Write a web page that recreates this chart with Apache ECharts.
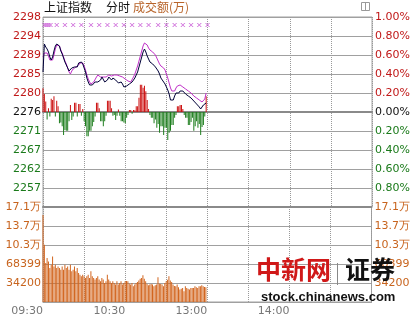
<!DOCTYPE html>
<html><head><meta charset="utf-8">
<script src="https://cdn.jsdelivr.net/npm/echarts@6/dist/echarts.min.js"></script>
<style>html,body{margin:0;padding:0;background:#fff}#c{width:413px;height:318px}</style>
</head><body><div id="c"></div>
<script>
// ---- data ----
const PRE_CLOSE = 2275.65;
const priceLabels = ['2298','2294','2289','2285','2280','2276','2271','2267','2262','2257',''];
const pctLabels = ['1.00%','0.80%','0.60%','0.40%','0.20%','0.00%','0.20%','0.40%','0.60%','0.80%',''];
const volLabels = ['','34200','68399','10.3万','13.7万','17.1万'];
const timeLabels = ['09:30','','10:30','','13:00','','14:00','',''];
// index price per minute (from 09:30)
const indexPrice = [2285.23,2291.94,2291.22,2290.74,2290.02,2288.82,2288.10,2288.82,2290.26,2291.46,
2291.94,2292.18,2291.46,2290.26,2289.54,2288.58,2287.63,2286.91,2286.19,2285.47,
2285.23,2286.19,2286.43,2286.43,2286.19,2286.43,2287.39,2287.63,2287.63,2287.15,
2286.19,2285.23,2283.79,2282.84,2282.12,2281.88,2282.12,2282.36,2282.84,2283.31,
2282.84,2282.60,2283.31,2284.03,2283.79,2282.84,2282.60,2283.31,2284.03,2283.79,
2283.31,2283.79,2283.79,2283.31,2282.84,2282.60,2282.60,2282.84,2282.36,2281.64,
2281.40,2281.88,2282.12,2282.36,2282.12,2282.84,2283.31,2283.79,2284.51,2285.23,
2286.43,2287.63,2288.82,2290.02,2290.74,2290.02,2289.06,2288.34,2287.63,2287.39,
2287.15,2286.91,2286.43,2285.95,2285.47,2284.75,2283.79,2283.31,2282.84,2282.36,
2281.64,2280.92,2279.96,2278.52,2278.28,2278.52,2279.48,2280.20,2280.44,2280.20,
2280.68,2280.92,2280.68,2280.44,2279.96,2279.72,2279.48,2279.24,2279.00,2278.76,
2278.28,2278.05,2277.57,2277.33,2276.85,2276.37,2276.61,2277.33,2277.57,2277.81];
// second (unweighted) index line
const avgPrice = [2288.82,2289.78,2290.02,2289.78,2289.06,2288.10,2287.63,2288.10,2289.30,2290.74,
2291.70,2291.94,2291.46,2290.50,2289.78,2288.82,2287.86,2287.15,2286.19,2285.23,
2284.75,2285.47,2285.95,2286.19,2286.43,2286.67,2286.91,2287.39,2287.63,2287.39,
2286.67,2285.71,2284.51,2283.55,2282.84,2282.36,2282.36,2282.84,2283.31,2284.03,
2284.51,2284.27,2284.03,2284.03,2284.03,2284.03,2284.03,2284.27,2284.51,2284.51,
2284.27,2284.51,2284.51,2284.51,2284.51,2284.51,2284.27,2284.03,2284.03,2283.79,
2283.55,2283.31,2283.07,2282.84,2282.84,2283.31,2284.03,2284.75,2285.71,2286.67,
2287.86,2289.06,2290.26,2291.46,2292.18,2292.42,2291.70,2290.98,2290.50,2290.26,
2290.02,2289.78,2289.30,2288.58,2287.86,2287.15,2286.67,2286.43,2286.19,2285.71,
2284.75,2283.79,2282.60,2281.40,2280.68,2280.44,2280.68,2281.40,2281.88,2282.12,
2282.12,2281.88,2281.64,2281.40,2281.16,2280.92,2280.68,2280.44,2280.20,2279.96,
2279.48,2279.24,2279.00,2278.76,2278.52,2278.28,2278.05,2277.81,2278.76,2280.20];
// buy/sell strength (index points, + red / - green)
const strength = [5.7,4.3,2.5,-1.8,0.9,-1.1,3.2,2.9,3.8,-1.1,
2.7,1.4,-2.7,-2.5,-3.4,-5.5,-4.3,-4.5,-4.5,-2.2,
1.7,-1.9,-1.1,2.2,2.2,-1.1,1.9,1.9,-0.9,0.7,
-2.2,-3.4,-5.8,-5.8,-4.5,-4.5,-3.4,-2.4,-1.1,2.2,
2.2,0.9,-2.2,-2.2,-3.4,-2.2,-0.9,2.7,2.7,2.7,
0.9,-0.9,-0.7,-1.9,-0.9,0.6,-0.9,-2.2,-2.2,-2.5,
-2.7,-1.4,-0.7,0.5,0.5,-0.4,0.5,0.4,1.4,1.4,
3.4,6.5,6.5,5.8,6.3,5.0,2.9,0.7,-0.7,-1.4,
-1.4,-2.7,-1.8,-3.8,-2.9,-5.0,-3.4,-3.4,-5.5,-3.8,
-3.8,-6.7,-5.0,-4.5,-3.1,-3.1,-1.4,-0.7,1.4,1.4,
1.7,1.7,0.7,-0.7,-1.4,-1.4,-3.1,-3.1,-2.4,-1.4,
-4.5,-3.4,-2.2,-3.8,-2.9,-5.5,-3.6,-3.1,-1.1,3.8];
// turnover per minute
const volume = [156600,102900,70100,79100,73100,61200,67100,82000,64100,67100,
61200,64100,61200,58200,64100,58200,67100,61200,64100,58200,
67100,55200,58200,64100,55200,61200,52200,49200,46200,49200,
46200,43300,46200,49200,43300,55200,46200,43300,40300,43300,
46200,40300,37300,43300,40300,34300,37300,49200,40300,37300,
34300,37300,34300,31300,37300,31300,34300,37300,31300,34300,
37300,38000,37300,33000,31300,34300,28300,31300,34300,36000,
38500,42000,43300,48000,42000,37300,32500,30000,31300,32500,
31300,28300,30000,31300,44500,33000,32500,31300,28300,34300,
37300,40000,46200,38500,36000,31300,29000,28300,31300,26500,
22400,24000,25400,19500,28300,25400,24000,22400,25400,25400,
25400,28300,26500,25400,28300,28300,30000,28300,27000,26500];
// signal marks (minute index) and their level
const signalMinutes = [1,2.5,4,5.5,10,16,22,28,35,41,47,53,59,65,71,77,84,90,96,102,108,114,120];
const signalLevel = 2296.5;

// ---- chart ----
const toPct = p => (p / PRE_CLOSE - 1) * 100;
const ptsPct = v => v / PRE_CLOSE * 100;
const chart = echarts.init(document.getElementById('c'), null, {renderer:'canvas'});
const FONT = 'DejaVu Sans';
const RED = '#C01818', GREEN = '#1A7A1A', ORANGE = '#C8641E';
function priceColor(v){ const i = Math.round((1 - v) / 0.2); return i < 5 ? RED : (i === 5 ? '#111' : GREEN); }

const option = {
  animation: false,
  backgroundColor: '#fff',
  grid: [
    {left:43, right:40, top:17, height:190, show:true, borderColor:'#a0a0a0', borderWidth:1, containLabel:false},
    {left:43, right:40, top:207, height:95, show:true, borderColor:'#a0a0a0', borderWidth:1, containLabel:false}
  ],
  xAxis: [
    {gridIndex:0, type:'value', min:0, max:240, interval:30,
     axisLine:{onZero:true, lineStyle:{color:'#8a8a8a', width:2}}, axisTick:{show:false}, axisLabel:{show:false},
     splitLine:{show:true, lineStyle:{type:'dotted', color:'#999'}}},
    {gridIndex:1, type:'value', min:0, max:240, interval:30, position:'bottom',
     axisLine:{onZero:false, lineStyle:{color:'#a0a0a0', width:1}}, axisTick:{show:false},
     axisLabel:{formatter: v => timeLabels[Math.round(v/30)] || '', align:'right', margin:4, color:'#777', fontSize:11, fontFamily:FONT, showMaxLabel:true, showMinLabel:true},
     splitLine:{show:true, lineStyle:{type:'dotted', color:'#999'}}},
    {gridIndex:1, type:'value', min:0, max:240, position:'top',
     axisLine:{onZero:false, lineStyle:{color:'#8a8a8a', width:2}}, axisTick:{show:false}, axisLabel:{show:false}, splitLine:{show:false}}
  ],
  yAxis: [
    {gridIndex:0, type:'value', min:-1, max:1, interval:0.2, position:'left',
     axisLine:{show:false}, axisTick:{show:false},
     axisLabel:{formatter: v => priceLabels[Math.round((1 - v)/0.2)] || '', color: v => priceColor(v), margin:2, fontSize:11, fontFamily:FONT, showMinLabel:true, showMaxLabel:true},
     splitLine:{show:true, lineStyle:{color:'#a0a0a0'}}},
    {gridIndex:0, type:'value', min:-1, max:1, interval:0.2, position:'right',
     axisLine:{show:false}, axisTick:{show:false},
     axisLabel:{formatter: v => pctLabels[Math.round((1 - v)/0.2)] || '', color: v => priceColor(v), margin:3, fontSize:11, fontFamily:FONT, showMinLabel:true, showMaxLabel:true},
     splitLine:{show:false}},
    {gridIndex:1, type:'value', min:0, max:171000, interval:34200, position:'left',
     axisLine:{show:false}, axisTick:{show:false},
     axisLabel:{formatter: v => volLabels[Math.round(v/34200)] || '', color:ORANGE, margin:2, fontSize:11, fontFamily:FONT, showMinLabel:true, showMaxLabel:true},
     splitLine:{show:true, lineStyle:{color:'#a0a0a0'}}},
    {gridIndex:1, type:'value', min:0, max:171000, interval:34200, position:'right',
     axisLine:{show:false}, axisTick:{show:false},
     axisLabel:{formatter: v => volLabels[Math.round(v/34200)] || '', color:ORANGE, margin:3, fontSize:11, fontFamily:FONT, showMinLabel:true, showMaxLabel:true},
     splitLine:{show:false}}
  ],
  series: [
    {type:'bar', xAxisIndex:0, yAxisIndex:0, barWidth:1, silent:true,
     data: strength.map((v,i) => ({value:[i, ptsPct(v)], itemStyle:{color: v >= 0 ? '#CC1010' : '#1E7E1E'}}))},
    {type:'line', xAxisIndex:0, yAxisIndex:0, symbol:'none', silent:true,
     lineStyle:{color:'#C030C8', width:1}, data: avgPrice.map((p,i) => [i, toPct(p)])},
    {type:'line', xAxisIndex:0, yAxisIndex:0, symbol:'none', silent:true,
     lineStyle:{color:'#000038', width:1}, data: indexPrice.map((p,i) => [i, toPct(p)])},
    {type:'scatter', xAxisIndex:0, yAxisIndex:0, silent:true,
     symbol:'path://M0,0L2,0L5,3L8,0L10,0L6,4L10,8L8,8L5,5L2,8L0,8L4,4Z', symbolSize:[5,4],
     itemStyle:{color:'#C040D0'}, data: signalMinutes.map(m => [m, toPct(signalLevel)])},
    {type:'bar', xAxisIndex:1, yAxisIndex:2, barWidth:1, silent:true,
     itemStyle:{color:'#D2651E'}, data: volume.map((v,i) => [i, v])}
  ],
  graphic: [
    {type:'text', left:44, top:1, style:{text:'上证指数', fill:'#111', font:'12px "Noto Sans CJK SC"'}},
    {type:'text', left:106, top:1, style:{text:'分时', fill:'#111', font:'12px "Noto Sans CJK SC"'}},
    {type:'text', left:133, top:1, style:{text:'成交额(万)', fill:'#B8642A', font:'12px "Noto Sans CJK SC"'}},
    {type:'rect', left:361, top:2, shape:{width:8, height:8}, style:{fill:'#fff', stroke:'#999', lineWidth:1}},
    {type:'line', shape:{x1:365.5, y1:2, x2:365.5, y2:10}, style:{stroke:'#999', lineWidth:1}},
    {type:'text', left:256, top:257, z:100, style:{text:'中新网', fill:'#D01818', font:'bold 25px "Noto Sans CJK SC"'}},
    {type:'rect', left:337, top:263, z:100, shape:{width:1, height:22}, style:{fill:'#888'}},
    {type:'text', left:345, top:257, z:100, style:{text:'证券', fill:'#111', font:'bold 25px "Noto Sans CJK SC"'}},
    {type:'text', left:261, top:291, z:100, style:{text:'stock.chinanews.com', fill:'#111', font:'bold 13px "Liberation Sans"'}}
  ]
};
chart.setOption(option);
</script></body></html>
